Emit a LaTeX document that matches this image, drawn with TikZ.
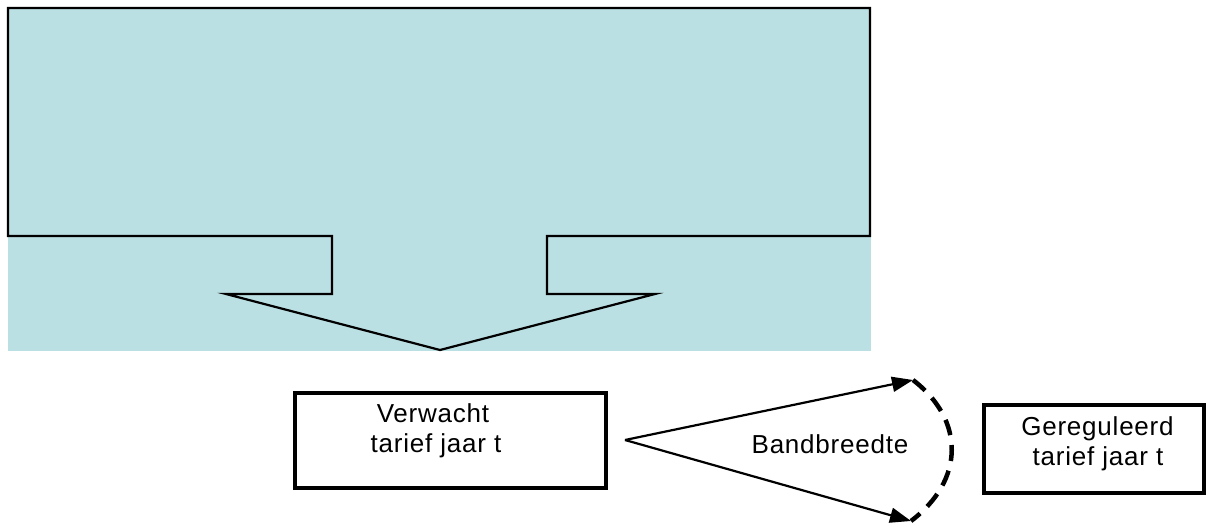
\documentclass[tikz,border=0pt]{standalone}
\usepackage{fontspec}
\setmainfont[LetterSpace=3]{Liberation Sans}
\usetikzlibrary{arrows.meta}
\definecolor{panelblue}{RGB}{187,224,227}
\tikzset{
  box/.style={draw=black, line width=3.6pt, minimum width=#1, inner sep=0pt, anchor=north west},
  lbl/.style={font=\fontsize{26}{30}\selectfont, inner sep=0pt, anchor=base},
  conn/.style={draw=black, line width=2.2pt, -{Triangle[length=21pt,width=15pt]}},
  band/.style={draw=black, line width=4.5pt, dash pattern=on 16pt off 10pt},
  outline/.style={draw=black, line width=2.2pt, line join=miter}
}
\begin{document}
\begin{tikzpicture}[x=1pt,y=-1pt]
\useasboundingbox (0,0) rectangle (1219,525);
% background panel
\fill[panelblue] (8,8) rectangle (871,351);
% block-arrow outline
\draw[outline] (8,236) -- (8,8) -- (870,8) -- (870,236) -- (547,236) -- (547,294) -- (655,294) -- (440,350) -- (226,294) -- (332,294) -- (332,236) -- cycle;
% boxes
\node[box=311pt, minimum height=95pt] (verw) at (293,391) {};
\node[box=220pt, minimum height=88pt] (gereg) at (982,403) {};
% texts
\node[lbl] (verw1) at (433,422.7) {Verwacht};
\node[lbl] (verw2) at (436,452.7) {tarief jaar t};
\node[lbl] (gereg1) at (1097.5,435) {Gereguleerd};
\node[lbl] (gereg2) at (1098,465) {tarief jaar t};
\node[lbl] (bandtxt) at (830,453.3) {Bandbreedte};
% connectors
\coordinate (apex) at (625,440);
\coordinate (tipA) at (913,380);
\coordinate (tipB) at (911,521);
\draw[conn] (apex) -- (tipA);
\draw[conn] (apex) -- (tipB);
\draw[band] (tipA) .. controls (965,420) and (965,480) .. (tipB);
\end{tikzpicture}
\end{document}
